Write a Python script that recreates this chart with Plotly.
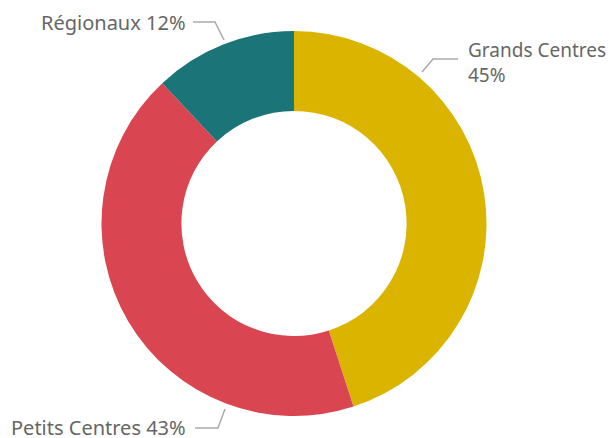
import plotly.graph_objects as go

labels = ["Grands Centres", "Petits Centres", "Régionaux"]
values = [45, 43, 12]
colors = ["#DBB400", "#D94651", "#1B7478"]

W, H = 614, 438
OFF = 8  # page body margin


def px(x, y):
    return (x - OFF) / W, 1 - (y - OFF) / H


x0, y1 = px(101, 31)
x1, y0 = px(487, 416)

fig = go.Figure(go.Pie(
    labels=labels,
    values=values,
    hole=0.585,
    sort=False,
    direction="clockwise",
    rotation=0,
    marker=dict(colors=colors, line=dict(width=0)),
    textinfo="none",
    hoverinfo="label+percent",
    domain=dict(x=[x0, x1], y=[y0, y1]),
))

# labels with leader lines
pct = [round(v * 100 / sum(values)) for v in values]
notes = [
    (466, 62, labels[0] + "<br>" + str(pct[0]) + "%", "left", 19),
    (188, 427, labels[1] + " " + str(pct[1]) + "%", "right", 20),
    (188, 22, labels[2] + " " + str(pct[2]) + "%", "right", 20),
]
for x, y, t, anchor, size in notes:
    ax, ay = px(x, y)
    fig.add_annotation(x=ax, y=ay, xref="paper", yref="paper", text=t,
                       showarrow=False, xanchor=anchor, yanchor="middle",
                       align="left",
                       font=dict(family="Noto Sans, Open Sans, sans-serif",
                                 size=size, color="#666666"))

leaders = [
    [(422, 72), (433, 59), (458, 59)],
    [(225, 409), (218, 428), (195, 428)],
    [(224, 40), (215, 22), (193, 22)],
]
for pts in leaders:
    path = "M " + " L ".join("{:.4f},{:.4f}".format(*px(x, y)) for x, y in pts)
    fig.add_shape(type="path", path=path, xref="paper", yref="paper",
                  line=dict(color="#AAAAAA", width=1.5))

fig.update_layout(
    width=W,
    height=H,
    margin=dict(l=0, r=0, t=0, b=0),
    showlegend=False,
    paper_bgcolor="white",
    plot_bgcolor="white",
)

fig.write_html("out.html")
